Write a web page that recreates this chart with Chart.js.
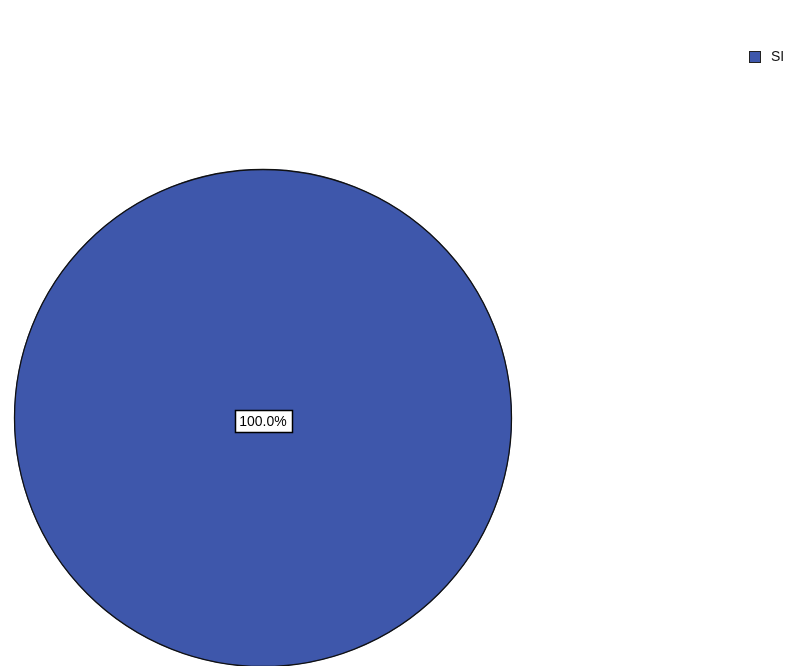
<!DOCTYPE html>
<html>
<head>
<meta charset="utf-8">
<script src="https://cdn.jsdelivr.net/npm/chart.js@4.4.0/dist/chart.umd.min.js"></script>
<style>
html,body{margin:0;padding:0;background:#fff;overflow:hidden;width:791px;height:666px;}
canvas{display:block;}
</style>
</head>
<body>
<canvas id="c" width="791" height="670" style="width:791px;height:670px"></canvas>
<script>
const categories = ["SI"];
const values = [100];
const colors = ["#3e57ab"];

const outlinePlugin = {
  id: 'outline',
  afterDatasetsDraw(chart) {
    const ctx = chart.ctx;
    const meta = chart.getDatasetMeta(0);
    const arc = meta.data[0];
    if (!arc) return;
    ctx.save();
    ctx.strokeStyle = '#111';
    ctx.lineWidth = 1.3;
    ctx.beginPath();
    ctx.arc(arc.x, arc.y, arc.outerRadius - 0.5, 0, Math.PI * 2);
    ctx.stroke();
    ctx.restore();
  }
};

const labelPlugin = {
  id: 'sliceLabels',
  afterDatasetsDraw(chart) {
    const ctx = chart.ctx;
    const meta = chart.getDatasetMeta(0);
    const ds = chart.data.datasets[0];
    const total = ds.data.reduce((a, b) => a + b, 0);
    meta.data.forEach((arc, i) => {
      const pct = ds.data[i] / total * 100;
      let x, y;
      if (pct >= 99.999) { x = arc.x; y = arc.y + 3; }
      else { const p = arc.tooltipPosition(); x = p.x; y = p.y; }
      const txt = pct.toFixed(1) + '%';
      ctx.save();
      ctx.font = '14px "Liberation Sans Narrow", "Liberation Sans", Arial, sans-serif';
      const w = Math.round(ctx.measureText(txt).width + 10);
      const h = 22;
      const lx = Math.round(x - w / 2) + 0.5, ly = Math.round(y - h / 2) + 0.5;
      ctx.fillStyle = '#fff';
      ctx.fillRect(lx, ly, w, h);
      ctx.strokeStyle = '#000';
      ctx.lineWidth = 1.5;
      ctx.strokeRect(lx, ly, w, h);
      ctx.fillStyle = '#000';
      ctx.textAlign = 'center';
      ctx.textBaseline = 'middle';
      ctx.fillText(txt, x, y + 1);
      ctx.restore();
    });
  }
};

const legendPlugin = {
  id: 'customLegend',
  afterDraw(chart) {
    const ctx = chart.ctx;
    const ds = chart.data.datasets[0];
    ctx.save();
    chart.data.labels.forEach((lab, i) => {
      const bx = 749, by = 51 + i * 20;
      ctx.fillStyle = ds.backgroundColor[i];
      ctx.fillRect(bx, by, 12, 12);
      ctx.strokeStyle = '#222';
      ctx.lineWidth = 1;
      ctx.strokeRect(bx + 0.5, by + 0.5, 11, 11);
      ctx.fillStyle = '#111';
      ctx.font = '14px "Liberation Sans", Arial, sans-serif';
      ctx.textBaseline = 'middle';
      ctx.fillText(lab, bx + 22, by + 6);
    });
    ctx.restore();
  }
};

new Chart(document.getElementById('c'), {
  type: 'pie',
  data: {
    labels: categories,
    datasets: [{
      data: values,
      backgroundColor: colors,
      borderWidth: 0
    }]
  },
  options: {
    responsive: false,
    animation: false,
    layout: { padding: { left: 13, right: 278, top: 169, bottom: 3 } },
    plugins: { legend: { display: false }, tooltip: { enabled: false } }
  },
  plugins: [outlinePlugin, labelPlugin, legendPlugin]
});
</script>
</body>
</html>
